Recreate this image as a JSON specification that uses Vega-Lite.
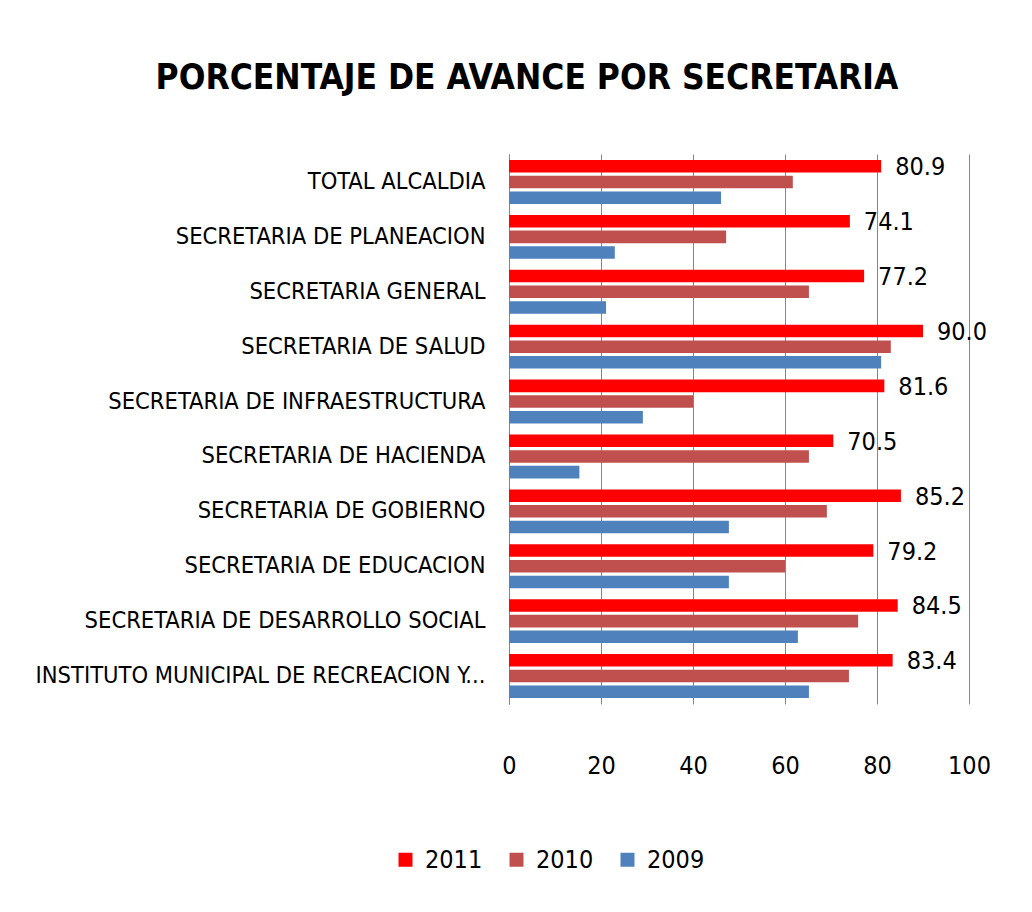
{
  "$schema": "https://vega.github.io/schema/vega-lite/v6.json",
  "width": 460,
  "height": 550,
  "autosize": {"type": "none"},
  "padding": {"left": 509, "top": 154, "right": 63, "bottom": 208},
  "background": "white",
  "config": {"view": {"stroke": null}},
  "title": {
    "text": "PORCENTAJE DE AVANCE POR SECRETARIA",
    "font": "DejaVu Sans Condensed, Liberation Sans Narrow, sans-serif",
    "fontSize": 35,
    "fontWeight": "bold",
    "color": "black",
    "anchor": "middle",
    "dx": -212,
    "offset": 58
  },
  "data": {
    "values": [
      {"secretaria": "TOTAL ALCALDIA", "anio": "2011", "avance": 80.9},
      {"secretaria": "TOTAL ALCALDIA", "anio": "2010", "avance": 61.7},
      {"secretaria": "TOTAL ALCALDIA", "anio": "2009", "avance": 46.1},
      {"secretaria": "SECRETARIA DE PLANEACION", "anio": "2011", "avance": 74.1},
      {"secretaria": "SECRETARIA DE PLANEACION", "anio": "2010", "avance": 47.2},
      {"secretaria": "SECRETARIA DE PLANEACION", "anio": "2009", "avance": 23.0},
      {"secretaria": "SECRETARIA GENERAL ", "anio": "2011", "avance": 77.2},
      {"secretaria": "SECRETARIA GENERAL ", "anio": "2010", "avance": 65.2},
      {"secretaria": "SECRETARIA GENERAL ", "anio": "2009", "avance": 21.1},
      {"secretaria": "SECRETARIA DE SALUD", "anio": "2011", "avance": 90.0},
      {"secretaria": "SECRETARIA DE SALUD", "anio": "2010", "avance": 83.0},
      {"secretaria": "SECRETARIA DE SALUD", "anio": "2009", "avance": 80.9},
      {"secretaria": "SECRETARIA DE INFRAESTRUCTURA", "anio": "2011", "avance": 81.6},
      {"secretaria": "SECRETARIA DE INFRAESTRUCTURA", "anio": "2010", "avance": 40.0},
      {"secretaria": "SECRETARIA DE INFRAESTRUCTURA", "anio": "2009", "avance": 29.1},
      {"secretaria": "SECRETARIA DE HACIENDA", "anio": "2011", "avance": 70.5},
      {"secretaria": "SECRETARIA DE HACIENDA", "anio": "2010", "avance": 65.2},
      {"secretaria": "SECRETARIA DE HACIENDA", "anio": "2009", "avance": 15.3},
      {"secretaria": "SECRETARIA DE GOBIERNO", "anio": "2011", "avance": 85.2},
      {"secretaria": "SECRETARIA DE GOBIERNO", "anio": "2010", "avance": 69.1},
      {"secretaria": "SECRETARIA DE GOBIERNO", "anio": "2009", "avance": 47.8},
      {"secretaria": "SECRETARIA DE EDUCACION", "anio": "2011", "avance": 79.2},
      {"secretaria": "SECRETARIA DE EDUCACION", "anio": "2010", "avance": 60.0},
      {"secretaria": "SECRETARIA DE EDUCACION", "anio": "2009", "avance": 47.8},
      {"secretaria": "SECRETARIA DE DESARROLLO SOCIAL", "anio": "2011", "avance": 84.5},
      {"secretaria": "SECRETARIA DE DESARROLLO SOCIAL", "anio": "2010", "avance": 75.9},
      {"secretaria": "SECRETARIA DE DESARROLLO SOCIAL", "anio": "2009", "avance": 62.8},
      {"secretaria": "INSTITUTO MUNICIPAL DE RECREACION Y...", "anio": "2011", "avance": 83.4},
      {"secretaria": "INSTITUTO MUNICIPAL DE RECREACION Y...", "anio": "2010", "avance": 73.9},
      {"secretaria": "INSTITUTO MUNICIPAL DE RECREACION Y...", "anio": "2009", "avance": 65.2}
    ]
  },
  "encoding": {
    "y": {
      "field": "secretaria",
      "type": "nominal",
      "sort": null,
      "scale": {"paddingInner": 0.2, "paddingOuter": 0.11},
      "axis": {
        "title": null,
        "ticks": false,
        "domain": true,
        "domainColor": "#868686",
        "labelFont": "DejaVu Sans Condensed, Liberation Sans Narrow, sans-serif",
        "labelFontSize": 23.5,
        "labelColor": "black",
        "labelPadding": 24,
        "labelLimit": 600
      }
    },
    "yOffset": {
      "field": "anio",
      "type": "nominal",
      "sort": ["2011", "2010", "2009"],
      "scale": {"paddingInner": 0.2}
    },
    "x": {
      "field": "avance",
      "type": "quantitative",
      "scale": {"domain": [0, 100], "nice": false},
      "axis": {
        "title": null,
        "values": [0, 20, 40, 60, 80, 100],
        "ticks": false,
        "domain": false,
        "grid": true,
        "gridColor": "#868686",
        "gridWidth": 1,
        "labelFlush": false,
        "labelFont": "DejaVu Sans Condensed, Liberation Sans Narrow, sans-serif",
        "labelFontSize": 25,
        "labelColor": "black",
        "labelPadding": 49
      }
    }
  },
  "layer": [
    {
      "mark": {"type": "bar"},
      "encoding": {
        "color": {
          "field": "anio",
          "type": "nominal",
          "scale": {"domain": ["2011", "2010", "2009"], "range": ["#FF0000", "#C0504D", "#4F81BD"]},
          "legend": {
            "title": null,
            "orient": "none",
            "direction": "horizontal",
            "columns": 3,
            "legendX": -116,
            "legendY": 693,
            "symbolType": "square",
            "symbolSize": 196,
            "symbolStrokeWidth": 0,
            "symbolOpacity": 1,
            "labelFont": "DejaVu Sans Condensed, Liberation Sans Narrow, sans-serif",
            "labelFontSize": 25,
            "labelColor": "black",
            "labelOffset": 7,
            "columnPadding": 21
          }
        }
      }
    },
    {
      "transform": [{"filter": "datum.anio == '2011'"}],
      "mark": {
        "type": "text",
        "align": "left",
        "baseline": "middle",
        "dx": 14,
        "dy": 1,
        "font": "DejaVu Sans Condensed, Liberation Sans Narrow, sans-serif",
        "fontSize": 25,
        "color": "black"
      },
      "encoding": {
        "text": {"field": "avance", "type": "quantitative", "format": ".1f"}
      }
    }
  ]
}
